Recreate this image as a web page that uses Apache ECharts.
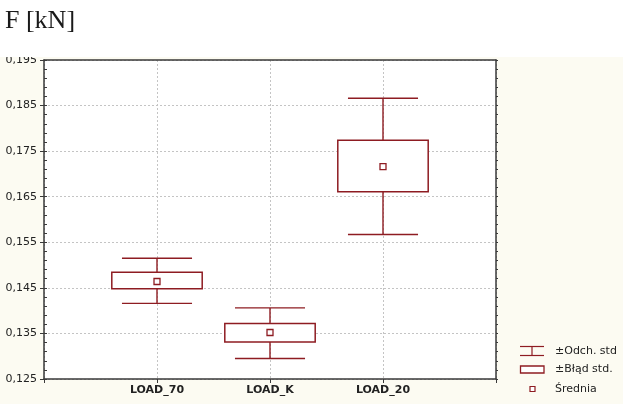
<!DOCTYPE html>
<html>
<head>
<meta charset="utf-8">
<script src="https://cdn.jsdelivr.net/npm/echarts@6/dist/echarts.min.js"></script>
<style>
  html, body { margin: 0; padding: 0; background: #ffffff; }
  #chart { width: 623px; height: 404px; }
</style>
</head>
<body>
<div id="chart"></div>
<script>
// Force measurements per loading case [kN]
const categories = ['LOAD_70', 'LOAD_K', 'LOAD_20'];
const meanValues = [0.1464, 0.1352, 0.1716];
const stdErrLow  = [0.1448, 0.1331, 0.1661];
const stdErrHigh = [0.1484, 0.1372, 0.1774];
const stdDevLow  = [0.1416, 0.1295, 0.1567];
const stdDevHigh = [0.1515, 0.1406, 0.1866];

// Value axis range and labelled ticks
const yMin = 0.125;
const yMax = 0.195;
const yTickValues = [0.125, 0.135, 0.145, 0.155, 0.165, 0.175, 0.185, 0.195];
const yMinorStep = 0.002;

const legendLabels = ['\u00b1Odch. std', '\u00b1B\u0142\u0105d std.', '\u015arednia'];

const markColor = '#8e1c22';
const frameColor = '#3a3a3a';
const panelColor = '#fcfbf2';

const yMinorValues = [];
for (let v = yMin; v <= yMax + 1e-9; v += yMinorStep) yMinorValues.push(+v.toFixed(4));

const axisCategories = [''].concat(categories, ['']);
const fmt = v => v.toFixed(3).replace('.', ',');

const rows = categories.map((c, i) => [i + 1, meanValues[i], stdErrLow[i], stdErrHigh[i], stdDevLow[i], stdDevHigh[i]]);

function renderWhisker(params, api) {
  const x = api.value(0);
  const lo = api.coord([x, api.value(4)]);
  const hi = api.coord([x, api.value(5)]);
  const boxLo = api.coord([x, api.value(2)]);
  const boxHi = api.coord([x, api.value(3)]);
  const half = api.size([1, 0])[0] * 0.31;
  const style = { stroke: markColor, lineWidth: 1.4, fill: null };
  return {
    type: 'group',
    children: [
      { type: 'line', shape: { x1: hi[0] - half, y1: hi[1], x2: hi[0] + half, y2: hi[1] }, style },
      { type: 'line', shape: { x1: lo[0] - half, y1: lo[1], x2: lo[0] + half, y2: lo[1] }, style },
      { type: 'line', shape: { x1: hi[0], y1: hi[1], x2: boxHi[0], y2: boxHi[1] }, style },
      { type: 'line', shape: { x1: boxLo[0], y1: boxLo[1], x2: lo[0], y2: lo[1] }, style }
    ]
  };
}

function renderBox(params, api) {
  const x = api.value(0);
  const boxLo = api.coord([x, api.value(2)]);
  const boxHi = api.coord([x, api.value(3)]);
  const half = api.size([1, 0])[0] * 0.40;
  return {
    type: 'rect',
    shape: { x: boxHi[0] - half, y: boxHi[1], width: half * 2, height: boxLo[1] - boxHi[1] },
    style: { stroke: markColor, lineWidth: 1.5, fill: '#ffffff' }
  };
}

function renderMean(params, api) {
  const p = api.coord([api.value(0), api.value(1)]);
  return {
    type: 'rect',
    shape: { x: p[0] - 3, y: p[1] - 3, width: 6, height: 6 },
    style: { stroke: markColor, lineWidth: 1.3, fill: '#ffffff' }
  };
}

const chart = echarts.init(document.getElementById('chart'), null, { renderer: 'canvas' });

const option = {
  backgroundColor: panelColor,
  animation: false,
  grid: {
    left: 44, right: 127, top: 60, bottom: 25,
    show: true, backgroundColor: '#ffffff', borderWidth: 0
  },
  xAxis: [
    {
      type: 'category',
      data: axisCategories,
      boundaryGap: false,
      axisLine: { lineStyle: { color: frameColor, width: 1.5 } },
      axisTick: { show: true, length: 4, lineStyle: { color: frameColor } },
      axisLabel: {
        margin: 6, color: '#222222', fontFamily: 'DejaVu Sans', fontSize: 11, fontWeight: 'bold'
      },
      splitLine: { show: true, lineStyle: { color: '#c4c4c4', type: [2, 2], width: 1 } }
    },
    {
      type: 'category',
      data: axisCategories,
      boundaryGap: false,
      position: 'top',
      axisLine: { lineStyle: { color: frameColor, width: 1.5 } },
      axisTick: { show: false },
      axisLabel: { show: false },
      splitLine: { show: false }
    }
  ],
  yAxis: [
    {
      type: 'value', min: yMin, max: yMax,
      axisLine: { show: true, lineStyle: { color: frameColor, width: 1.5 } },
      axisTick: { show: true, length: 4, customValues: yTickValues, lineStyle: { color: frameColor } },
      axisLabel: {
        customValues: yTickValues, formatter: fmt, margin: 7,
        color: '#222222', fontFamily: 'DejaVu Sans', fontSize: 11
      },
      splitLine: { show: true, lineStyle: { color: '#c4c4c4', type: [2, 2], width: 1 } }
    },
    {
      type: 'value', min: yMin, max: yMax, position: 'left',
      axisLine: { show: false },
      axisTick: { show: true, inside: true, length: 3, customValues: yMinorValues, lineStyle: { color: frameColor } },
      axisLabel: { show: false },
      splitLine: { show: false }
    },
    {
      type: 'value', min: yMin, max: yMax, position: 'right',
      axisLine: { show: true, lineStyle: { color: frameColor, width: 1.5 } },
      axisTick: { show: true, length: 2, customValues: yMinorValues, lineStyle: { color: frameColor } },
      axisLabel: { show: false },
      splitLine: { show: false }
    }
  ],
  series: [
    { name: legendLabels[0], type: 'custom', renderItem: renderWhisker, data: rows, z: 2 },
    { name: legendLabels[1], type: 'custom', renderItem: renderBox, data: rows, z: 3 },
    { name: legendLabels[2], type: 'custom', renderItem: renderMean, data: rows, z: 4 }
  ],
  graphic: [
    // white heading strip above the chart panel
    { type: 'rect', left: 0, top: 0, z: 100, shape: { width: 623, height: 57 }, style: { fill: '#ffffff' } },
    {
      type: 'text', left: 5, top: 8, z: 101,
      style: { text: 'F [kN]', font: '26px "Liberation Serif", serif', fill: '#1a1a1a' }
    },
    // legend
    {
      type: 'group', z: 101,
      children: [
        { type: 'line', shape: { x1: 520, y1: 346.5, x2: 544, y2: 346.5 }, style: { stroke: markColor, lineWidth: 1.2 } },
        { type: 'line', shape: { x1: 532, y1: 346.5, x2: 532, y2: 355.5 }, style: { stroke: markColor, lineWidth: 1.2 } },
        { type: 'line', shape: { x1: 520, y1: 355.5, x2: 544, y2: 355.5 }, style: { stroke: markColor, lineWidth: 1.2 } },
        { type: 'rect', shape: { x: 520.5, y: 366, width: 23.5, height: 7 }, style: { stroke: markColor, lineWidth: 1.3, fill: '#ffffff' } },
        { type: 'rect', shape: { x: 530, y: 386.5, width: 5, height: 5 }, style: { stroke: markColor, lineWidth: 1.2, fill: '#ffffff' } },
        { type: 'text', x: 555, y: 351, style: { text: legendLabels[0], font: '11px "DejaVu Sans"', fill: '#222222', verticalAlign: 'middle' } },
        { type: 'text', x: 555, y: 369.5, style: { text: legendLabels[1], font: '11px "DejaVu Sans"', fill: '#222222', verticalAlign: 'middle' } },
        { type: 'text', x: 555, y: 389, style: { text: legendLabels[2], font: '11px "DejaVu Sans"', fill: '#222222', verticalAlign: 'middle' } }
      ]
    }
  ]
};

chart.setOption(option);
</script>
</body>
</html>
